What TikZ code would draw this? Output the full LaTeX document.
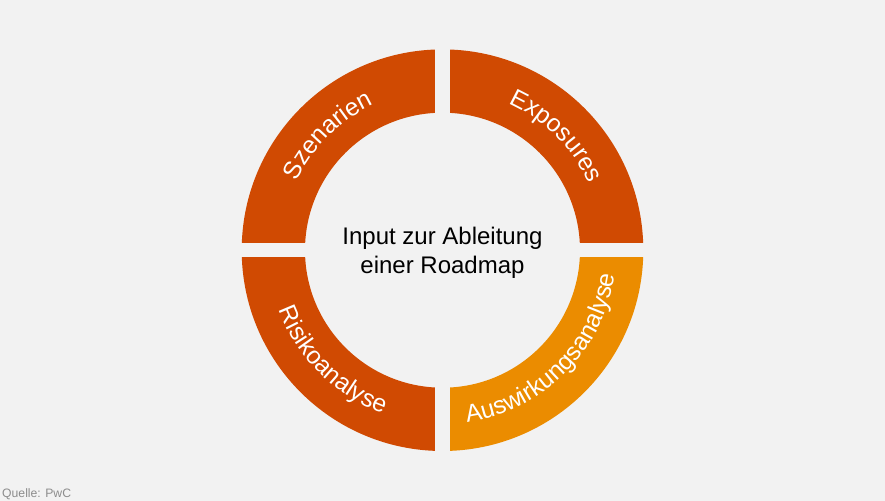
\documentclass[tikz,border=0pt]{standalone}
\usepackage{fontspec}
\setmainfont{Liberation Sans}
\usepackage{xcolor}
\usepackage{tikz}
\usetikzlibrary{positioning, decorations.text}
\definecolor{pwcorange}{HTML}{D04A02}
\definecolor{pwctangerine}{HTML}{EB8C00}
\definecolor{pagegrey}{HTML}{F2F2F2}
\definecolor{sourcegrey}{HTML}{8C8C8C}
\newcommand{\ringfont}{\fontsize{24bp}{29bp}\selectfont}
\newcommand{\arcfont}{\fontsize{24.6bp}{29bp}\selectfont}

\begin{document}
\begin{tikzpicture}[x=1bp,y=1bp,
    seglabel/.style={decorate, decoration={text along path, text align=center, text color=white}},
    hubtext/.style={align=center, font=\ringfont, inner sep=0pt}]
    % page background
    \fill[pagegrey] (-442.5,-250.8) rectangle (442.5,250.2);
    \useasboundingbox (-442.5,-250.8) rectangle (442.5,250.2);
    % four ring segments, cut apart by a cross of gaps
    \foreach \ang/\segcol in {0/pwcorange, 90/pwcorange, 180/pwcorange, 270/pwctangerine} {
      \begin{scope}
        \clip[rotate=\ang] (7.7,7.7) rectangle (230,230);
        \fill[\segcol, even odd rule] (0,0) circle (200.8) (0,0) circle (137.5);
      \end{scope}
    }
    % segment labels, set along the ring
    \path[seglabel, decoration={text={|\arcfont|Szenarien}}] (180:161) arc[start angle=180, end angle=90, radius=161];
    \path[seglabel, decoration={text={|\arcfont|Exposures}}] (90:161) arc[start angle=90, end angle=0, radius=161];
    \path[seglabel, decoration={text={|\arcfont|Risikoanalyse}}] (180:174) arc[start angle=180, end angle=270, radius=174];
    \path[seglabel, decoration={text={|\arcfont|Auswirkungsanalyse}}] (270:174) arc[start angle=270, end angle=360, radius=174];
    % centre text
    \node[hubtext] (hub) at (0,-3) {Input zur Ableitung\\einer Roadmap};
    % source line
    \node[anchor=base west, inner sep=0pt, text=sourcegrey, font=\fontsize{12.2bp}{14bp}\selectfont] (quelle) at (-440.5,-247) {Quelle: PwC};
\end{tikzpicture}
\end{document}
